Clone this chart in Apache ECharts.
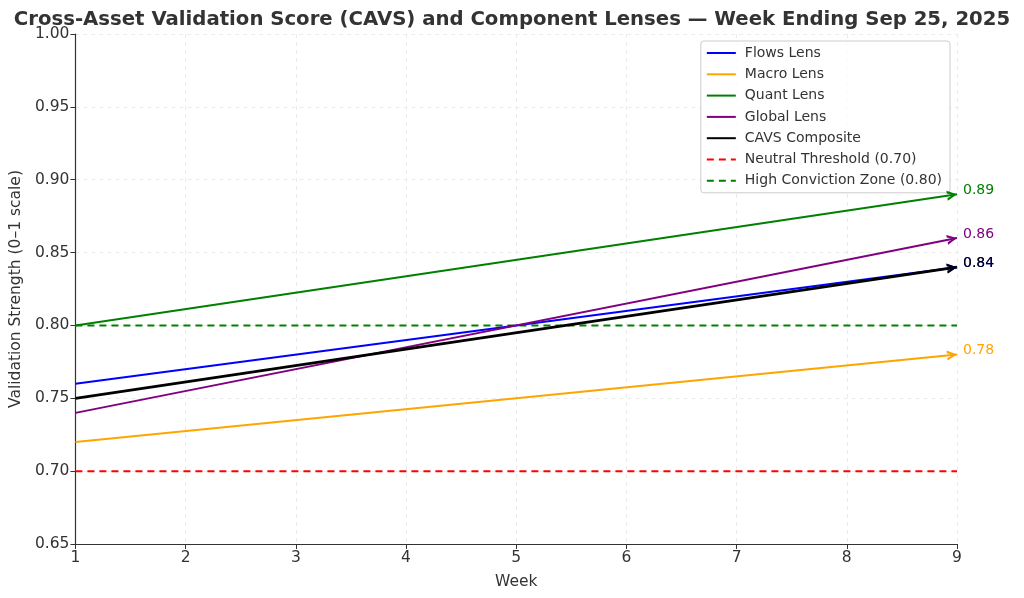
<!DOCTYPE html>
<html>
<head>
<meta charset="utf-8">
<script src="https://cdn.jsdelivr.net/npm/echarts@6/dist/echarts.min.js"></script>
<style>
html,body{margin:0;padding:0;background:#fff;}
#chart{width:1024px;height:598px;}
</style>
</head>
<body>
<div id="chart"></div>
<script>
// ---- data ----
const weeks = [1, 9];
const flowsLens = [0.76, 0.84];
const macroLens = [0.72, 0.78];
const quantLens = [0.80, 0.89];
const globalLens = [0.74, 0.86];
const cavsComposite = [0.75, 0.84];
const neutralThreshold = [0.70, 0.70];
const highConviction = [0.80, 0.80];
const xTicks = [1, 2, 3, 4, 5, 6, 7, 8, 9];
const yTicks = [0.65, 0.70, 0.75, 0.80, 0.85, 0.90, 0.95, 1.00];

const FONT = 'DejaVu Sans';
const arrowPath = 'path://M0,0 L10,5 L0,10 L0,7.4 L6.2,5 L0,2.6 Z M19.98,4.99 L20,5 L19.98,5.01 Z';

const chart = echarts.init(document.getElementById('chart'));

function mainSeries(name, vals, color, width) {
  return {
    name: name,
    type: 'line',
    data: weeks.map((w, i) => [w, vals[i]]),
    symbol: 'none',
    lineStyle: { color: color, width: width },
    itemStyle: { color: color },
    endLabel: {
      show: true,
      formatter: (p) => p.value[1].toFixed(2),
      color: color,
      fontFamily: FONT,
      fontSize: 14,
      distance: 6,
      offset: [0, -4]
    },
    emphasis: { disabled: true },
    animation: false,
    z: 3
  };
}

function arrowSeries(vals, color, rot) {
  const last = weeks.length - 1;
  return {
    type: 'scatter',
    data: [[weeks[last], vals[last]]],
    symbol: arrowPath,
    symbolSize: [20, 10],
    symbolRotate: rot || 0,
    itemStyle: { color: color, opacity: 1 },
    silent: true,
    emphasis: { disabled: true },
    animation: false,
    z: 4
  };
}

function hSeries(name, vals, color) {
  return {
    name: name,
    type: 'line',
    data: weeks.map((w, i) => [w, vals[i]]),
    symbol: 'none',
    lineStyle: { color: color, width: 2, type: [7, 5] },
    itemStyle: { color: color },
    emphasis: { disabled: true },
    animation: false,
    z: 2
  };
}

const defs = [
  ['Flows Lens', flowsLens, '#0000ff', 2],
  ['Macro Lens', macroLens, '#ffa500', 2],
  ['Quant Lens', quantLens, '#008000', 2],
  ['Global Lens', globalLens, '#800080', 2],
  ['CAVS Composite', cavsComposite, '#000000', 2.8]
];

function buildOption(rots) {
  const series = defs.map(d => mainSeries(d[0], d[1], d[2], d[3]));
  series.push(hSeries('Neutral Threshold (0.70)', neutralThreshold, '#ff0000'));
  series.push(hSeries('High Conviction Zone (0.80)', highConviction, '#008000'));
  defs.forEach((d, i) => series.push(arrowSeries(d[1], d[2], rots ? rots[i] : 0)));
  return {
    backgroundColor: '#ffffff',
    animation: false,
    title: {
      text: 'Cross-Asset Validation Score (CAVS) and Component Lenses — Week Ending Sep 25, 2025',
      left: 'center',
      top: 5,
      textStyle: { fontFamily: FONT, fontWeight: 'bold', fontSize: 19.7, color: '#333333' }
    },
    grid: { left: 75, right: 67, top: 34, bottom: 54, containLabel: false },
    legend: {
      orient: 'vertical',
      right: 74,
      top: 41,
      itemWidth: 29,
      itemHeight: 14,
      itemGap: 7.3,
      padding: [5, 8, 5, 5],
      backgroundColor: 'rgba(255,255,255,0.8)',
      borderColor: '#cccccc',
      borderWidth: 1,
      borderRadius: 3,
      itemStyle: { opacity: 0 },
      textStyle: { fontFamily: FONT, fontSize: 14, color: '#333333', padding: [0, 0, 0, 4] },
      data: defs.map(d => d[0]).concat(['Neutral Threshold (0.70)', 'High Conviction Zone (0.80)'])
    },
    xAxis: {
      type: 'value',
      min: xTicks[0],
      max: xTicks[xTicks.length - 1],
      interval: 1,
      name: 'Week',
      nameLocation: 'middle',
      nameGap: 30,
      nameTextStyle: { fontFamily: FONT, fontSize: 15.5, color: '#333333' },
      axisLine: { show: true, lineStyle: { color: '#333333', width: 1.2 } },
      axisTick: { show: true, length: 5, lineStyle: { color: '#333333' } },
      axisLabel: { fontFamily: FONT, fontSize: 15.5, color: '#333333', margin: 6 },
      splitLine: { show: true, lineStyle: { color: '#e6e6e6', type: [4, 4], width: 0.8 } }
    },
    yAxis: {
      type: 'value',
      min: yTicks[0],
      max: yTicks[yTicks.length - 1],
      interval: 0.05,
      name: 'Validation Strength (0–1 scale)',
      nameLocation: 'middle',
      nameGap: 48,
      nameTextStyle: { fontFamily: FONT, fontSize: 15.5, color: '#333333' },
      axisLine: { show: true, lineStyle: { color: '#333333', width: 1.2 } },
      axisTick: { show: true, length: 5, lineStyle: { color: '#333333' } },
      axisLabel: { fontFamily: FONT, fontSize: 15.5, color: '#333333', margin: 6,
        formatter: (v) => v.toFixed(2) },
      splitLine: { show: true, lineStyle: { color: '#e6e6e6', type: [4, 4], width: 0.8 } }
    },
    series: series
  };
}

chart.setOption(buildOption(null));
// arrowhead rotation along each line in pixel space
const rots = defs.map(d => {
  const a = chart.convertToPixel({ gridIndex: 0 }, [weeks[0], d[1][0]]);
  const b = chart.convertToPixel({ gridIndex: 0 }, [weeks[weeks.length - 1], d[1][d[1].length - 1]]);
  return Math.atan2(-(b[1] - a[1]), b[0] - a[0]) * 180 / Math.PI;
});
chart.setOption(buildOption(rots), true);
</script>
</body>
</html>
